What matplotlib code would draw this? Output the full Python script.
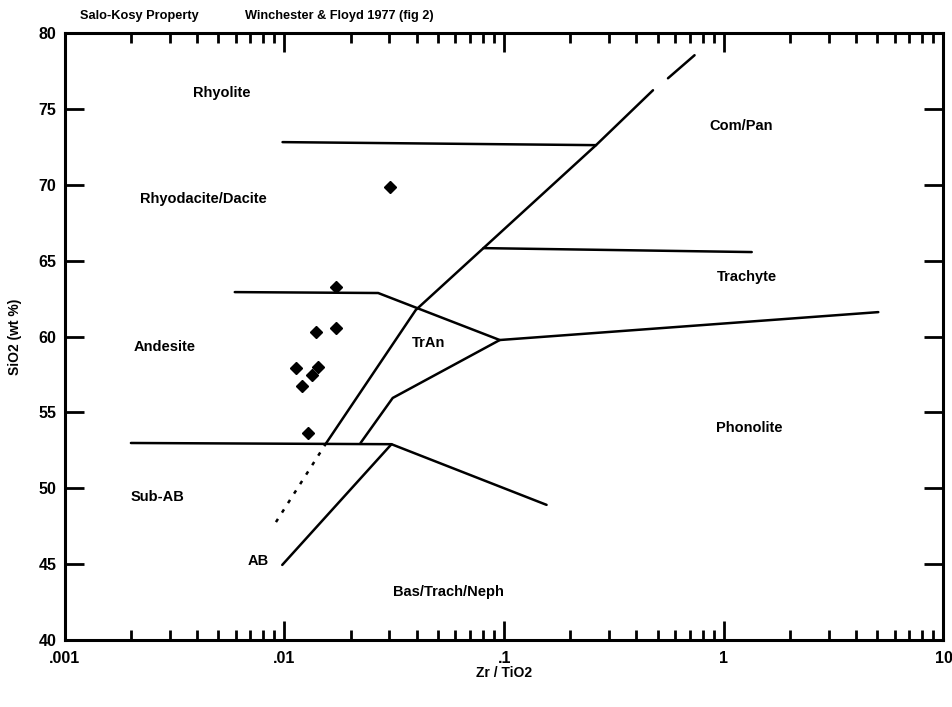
import matplotlib
matplotlib.use("Agg")
from matplotlib import pyplot as plt

plt.rcParams['font.family'] = ['Liberation Sans Narrow', 'Liberation Sans', 'DejaVu Sans']
plt.rcParams['font.weight'] = 'bold'

# field boundaries (Zr/TiO2, SiO2)
rhyoliteX = [0.0098, 0.262]
rhyoliteY = [72.82, 72.62]

diagUpperX = [0.0155, 0.0396, 0.0805, 0.262, 0.476]
diagUpperY = [52.98, 61.75, 65.83, 72.62, 76.24]
diagTopX = [0.557, 0.736]
diagTopY = [77.03, 78.55]

diagDashX = [0.0155, 0.00885]
diagDashY = [52.98, 47.44]

trachyteX = [0.0805, 1.34]
trachyteY = [65.83, 65.57]

andesiteTopX = [0.00594, 0.0267, 0.0955, 5.05]
andesiteTopY = [62.93, 62.87, 59.77, 61.61]

tranLowX = [0.0955, 0.0311, 0.0222]
tranLowY = [59.77, 55.95, 52.98]

subabX = [0.0020, 0.0307, 0.156]
subabY = [52.98, 52.9, 48.9]

abX = [0.0307, 0.00977]
abY = [52.9, 44.94]

# samples
sampleX = [0.0302, 0.0172, 0.0171, 0.0139, 0.01124, 0.01428, 0.0133, 0.0120, 0.01274]
sampleY = [69.85, 63.26, 60.56, 60.30, 57.92, 57.99, 57.46, 56.74, 53.64]

# field names
fieldNames = ["Rhyolite", "Rhyodacite/Dacite", "Com/Pan", "Trachyte", "TrAn",
              "Andesite", "Phonolite", "Sub-AB", "AB", "Bas/Trach/Neph"]
fieldX = [0.0052, 0.00428, 1.20, 1.28, 0.0454, 0.00284, 1.30, 0.00264, 0.0076, 0.0556]
fieldY = [76.05, 69.1, 73.87, 63.92, 59.6, 59.3, 53.97, 49.4, 45.2, 43.17]

xTicks = [0.001, 0.01, 0.1, 1, 10]
xTickLabels = [".001", ".01", ".1", "1", "10"]
yTicks = [40, 45, 50, 55, 60, 65, 70, 75, 80]

fig = plt.figure(figsize=(9.53, 7.07), dpi=100)
ax = fig.add_axes([0.068, 0.095, 0.922, 0.858])

lw = 1.8
for xs, ys in [(rhyoliteX, rhyoliteY), (diagUpperX, diagUpperY), (diagTopX, diagTopY),
               (trachyteX, trachyteY), (andesiteTopX, andesiteTopY), (tranLowX, tranLowY),
               (subabX, subabY), (abX, abY)]:
    ax.plot(xs, ys, color='black', linewidth=lw, solid_capstyle='round')
ax.plot(diagDashX, diagDashY, color='black', linewidth=lw, linestyle=(0, (1.5, 3)))

ax.plot(sampleX, sampleY, linestyle='none', marker='D', markersize=6.5,
        markerfacecolor='black', markeredgecolor='black')

for name, fx, fy in zip(fieldNames, fieldX, fieldY):
    ax.text(fx, fy, name, ha='center', va='center', fontsize=10.5, fontweight='bold')

ax.set_xscale('log')
ax.set_xlim(0.001, 10)
ax.set_ylim(40, 80)
ax.set_xticks(xTicks)
ax.set_xticklabels(xTickLabels)
ax.set_yticks(yTicks)
ax.tick_params(which='major', direction='in', length=14, width=2, top=True, right=True,
               labelsize=11.5, pad=8)
ax.tick_params(which='minor', direction='in', length=7, width=2, top=True, right=True)
ax.tick_params(axis='y', pad=6)
for s in ax.spines.values():
    s.set_linewidth(2.2)

ax.set_xlabel("Zr / TiO2", fontsize=10, fontweight='bold', labelpad=0)
ax.set_ylabel("SiO2 (wt %)", fontsize=10, fontweight='bold', labelpad=12)

fig.text(0.084, 0.978, "Salo-Kosy Property", fontsize=9.2, fontweight='bold', va='center')
fig.text(0.257, 0.978, "Winchester & Floyd 1977 (fig 2)", fontsize=9.2, fontweight='bold', va='center')

plt.savefig("out.png", dpi=100)
